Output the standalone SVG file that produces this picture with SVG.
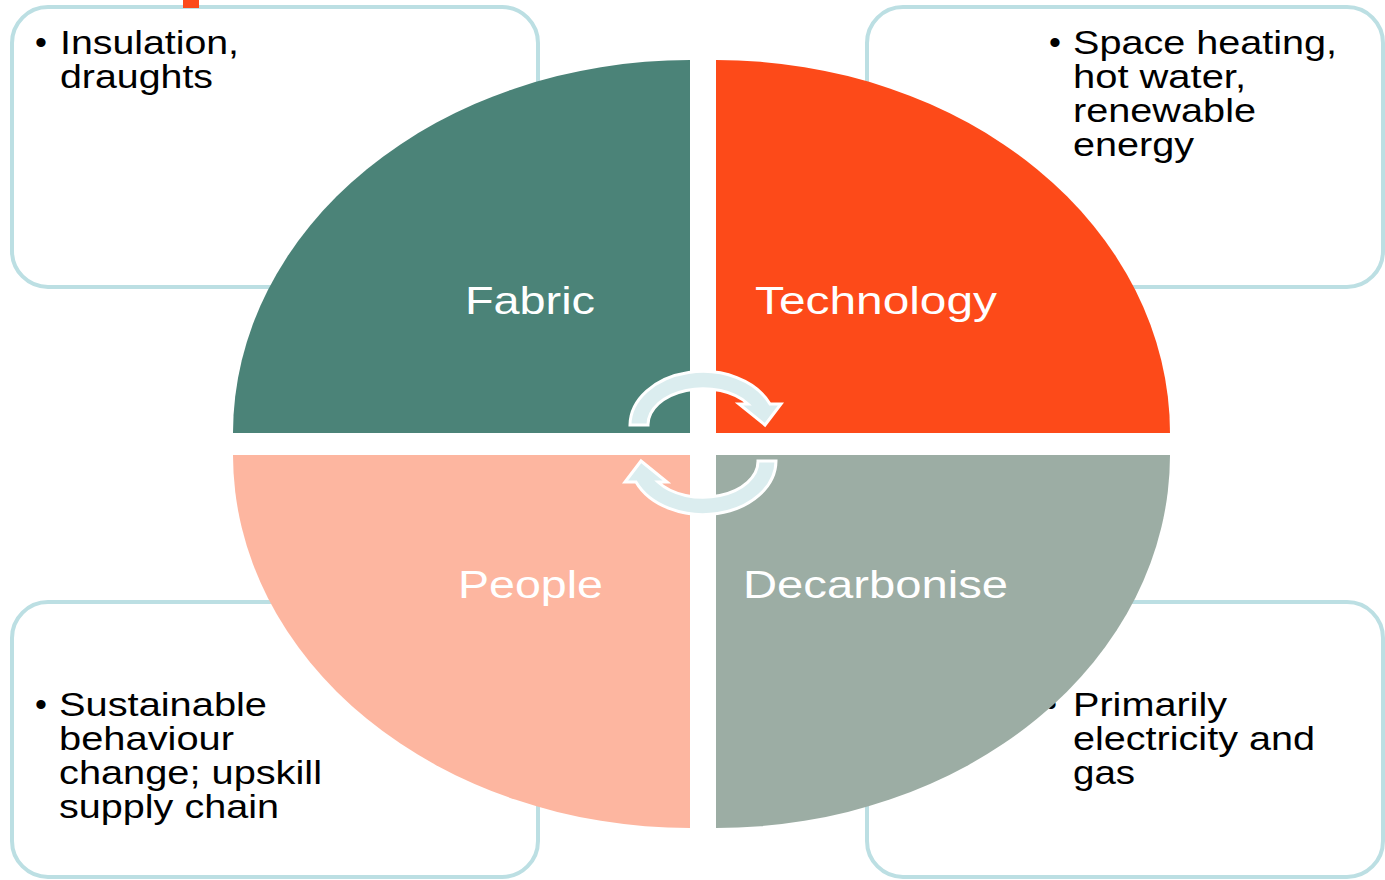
<svg xmlns="http://www.w3.org/2000/svg" xmlns:xlink="http://www.w3.org/1999/xlink" width="1385" height="880" viewBox="0 0 1385 880">
  <style>
    .box { fill: #ffffff; stroke: #bcdfe3; stroke-width: 4; }
    .txt { font-family: "Liberation Sans", Arial, sans-serif; font-size: 34px; fill: #000000; }
    .lbl { font-family: "Liberation Sans", Arial, sans-serif; font-size: 39px; fill: #ffffff; }
    .arrow { fill: #dbedef; stroke: #ffffff; stroke-width: 3; stroke-linejoin: miter; }
  </style>
  <defs>
    <path id="circArrow" d="M 630,425 A 73 54 0 0 1 770,404 L 781,404 L 765,425 L 739,404 L 748,404 A 55 36 0 0 0 648,425 Z"/>
  </defs>
  <rect width="1385" height="880" fill="#ffffff"/>

  <g id="box-fabric">
    <rect class="box" x="12" y="7" width="526" height="280" rx="36" ry="36"/>
    <text class="txt" x="35" y="54">•</text>
    <text class="txt" x="60" y="54" textLength="179" lengthAdjust="spacingAndGlyphs">Insulation,</text>
    <text class="txt" x="60" y="88" textLength="153" lengthAdjust="spacingAndGlyphs">draughts</text>
  </g>
  <g id="box-technology">
    <rect class="box" x="867" y="7" width="516" height="280" rx="36" ry="36"/>
    <text class="txt" x="1049" y="54">•</text>
    <text class="txt" x="1073" y="54" textLength="264" lengthAdjust="spacingAndGlyphs">Space heating,</text>
    <text class="txt" x="1073" y="88" textLength="173" lengthAdjust="spacingAndGlyphs">hot water,</text>
    <text class="txt" x="1073" y="122" textLength="183" lengthAdjust="spacingAndGlyphs">renewable</text>
    <text class="txt" x="1073" y="156" textLength="121" lengthAdjust="spacingAndGlyphs">energy</text>
  </g>
  <g id="box-people">
    <rect class="box" x="12" y="602" width="526" height="275" rx="36" ry="36"/>
    <text class="txt" x="35" y="716">•</text>
    <text class="txt" x="59" y="716" textLength="208" lengthAdjust="spacingAndGlyphs">Sustainable</text>
    <text class="txt" x="59" y="750" textLength="175" lengthAdjust="spacingAndGlyphs">behaviour</text>
    <text class="txt" x="59" y="784" textLength="263" lengthAdjust="spacingAndGlyphs">change; upskill</text>
    <text class="txt" x="59" y="818" textLength="220" lengthAdjust="spacingAndGlyphs">supply chain</text>
  </g>
  <g id="box-decarbonise">
    <rect class="box" x="867" y="602" width="516" height="275" rx="36" ry="36"/>
    <text class="txt" x="1045" y="716">•</text>
    <text class="txt" x="1073" y="716" textLength="154" lengthAdjust="spacingAndGlyphs">Primarily</text>
    <text class="txt" x="1073" y="750" textLength="242" lengthAdjust="spacingAndGlyphs">electricity and</text>
    <text class="txt" x="1073" y="784" textLength="62" lengthAdjust="spacingAndGlyphs">gas</text>
  </g>

  <rect id="marker-top" x="183" y="0" width="16" height="8" fill="#fc4a1a"/>

  <g id="fabric">
    <path d="M 690,433 L 233,433 A 457 373 0 0 1 690,60 Z" fill="#4b8378"/>
    <text class="lbl" x="465" y="314" textLength="130" lengthAdjust="spacingAndGlyphs">Fabric</text>
  </g>
  <g id="technology">
    <path d="M 716,433 L 716,60 A 454 373 0 0 1 1170,433 Z" fill="#fd4a19"/>
    <text class="lbl" x="755" y="314" textLength="242" lengthAdjust="spacingAndGlyphs">Technology</text>
  </g>
  <g id="people">
    <path d="M 690,455 L 690,828 A 457 373 0 0 1 233,455 Z" fill="#fdb6a0"/>
    <text class="lbl" x="458" y="598" textLength="145" lengthAdjust="spacingAndGlyphs">People</text>
  </g>
  <g id="decarbonise">
    <path d="M 716,455 L 1170,455 A 454 373 0 0 1 716,828 Z" fill="#9cada4"/>
    <text class="lbl" x="743" y="598" textLength="265" lengthAdjust="spacingAndGlyphs">Decarbonise</text>
  </g>

  <g id="connectors">
    <use xlink:href="#circArrow" class="arrow"/>
    <use xlink:href="#circArrow" class="arrow" transform="rotate(180 703 443)"/>
  </g>
</svg>
